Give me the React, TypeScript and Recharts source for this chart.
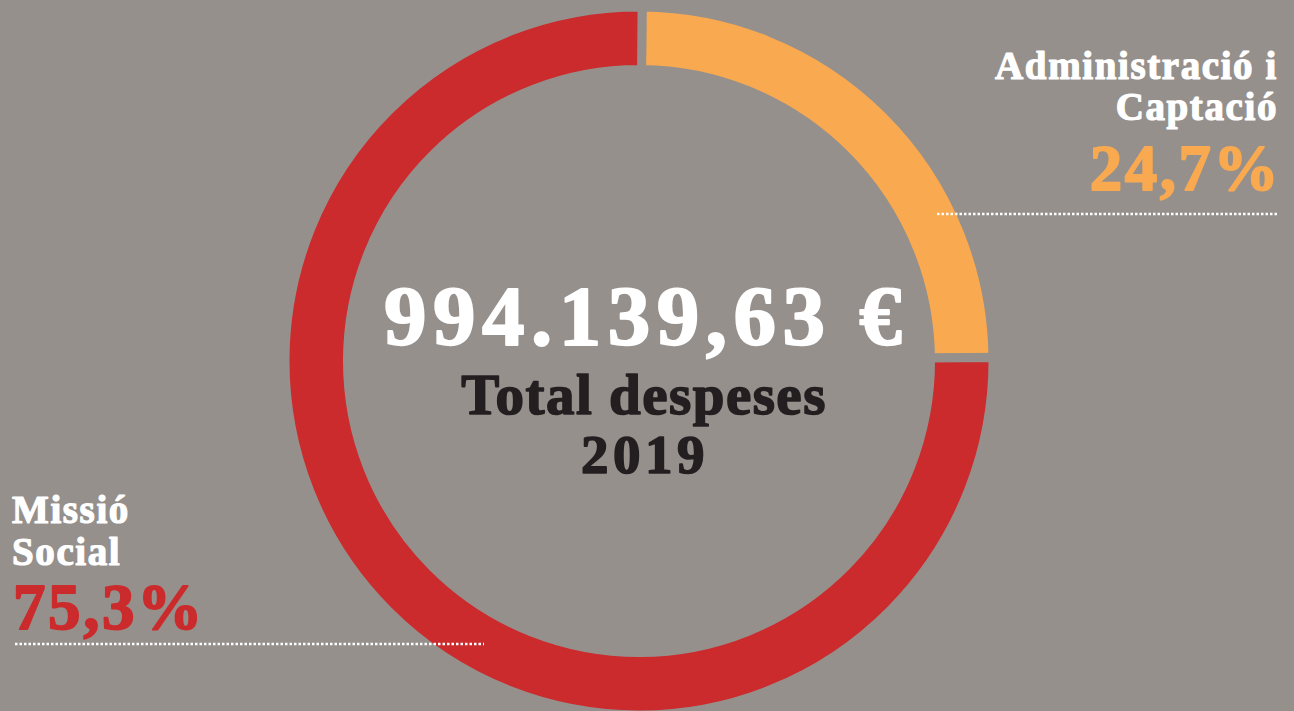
import React from "react";
import { PieChart, Pie, Cell } from "recharts";

const categories = ["Administració i Captació", "Missió Social"];
const values = [24.7, 75.3];
const percentLabels = ["24,7%", "75,3%"];
const colors = ["#f9a94f", "#cb2b2c"];
const totalLabel = "994.139,63 €";
const titleLines = ["Total despeses", "2019"];
const rightLabelLines = ["Administració i", "Captació"];
const leftLabelLines = ["Missió", "Social"];

const data = categories.map((name, i) => ({ name, value: values[i] }));

const BG = "#96908d";
const W = 1294;
const H = 711;
const FONT = "'Liberation Serif', 'Times New Roman', serif";

function T(props: any) {
  const { children, fill, sw = 1.2, ...rest } = props;
  return (
    <text fill={fill} stroke={fill} strokeWidth={sw} strokeLinejoin="round" {...rest}>
      {children}
    </text>
  );
}

export default function App() {
  return (
    <div style={{ position: "fixed", left: 0, top: 0, width: W, height: H, background: BG, overflow: "hidden" }}>
      <div style={{ position: "absolute", left: 0, top: 0 }}>
        <PieChart width={W} height={H} margin={{ top: 0, right: 0, bottom: 0, left: 0 }}>
          <Pie
            data={data}
            dataKey="value"
            nameKey="name"
            cx={639}
            cy={361}
            innerRadius={291.5}
            outerRadius={354}
            startAngle={89.5}
            endAngle={-270.5}
            stroke={BG}
            strokeWidth={9}
            isAnimationActive={false}
          >
            {data.map((d, i) => (
              <Cell key={d.name} fill={colors[i]} stroke={BG} strokeWidth={9} />
            ))}
          </Pie>
        </PieChart>
      </div>
      <svg width={W} height={H} style={{ position: "absolute", left: 0, top: 0, pointerEvents: "none" }}>
        <g fontFamily={FONT} fontWeight="bold">
          <T x={1278} y={79} textAnchor="end" fill="#ffffff" fontSize={39} letterSpacing={1.6}>
            {rightLabelLines[0]}
          </T>
          <T x={1278} y={120} textAnchor="end" fill="#ffffff" fontSize={39} letterSpacing={1.6}>
            {rightLabelLines[1]}
          </T>
          <T x={1281} y={190} textAnchor="end" fill={colors[0]} fontSize={65} letterSpacing={2.5} sw={1.8}>
            {percentLabels[0]}
          </T>
          <T x={12} y={523} textAnchor="start" fill="#ffffff" fontSize={39} letterSpacing={1.6}>
            {leftLabelLines[0]}
          </T>
          <T x={12} y={565} textAnchor="start" fill="#ffffff" fontSize={39} letterSpacing={1.6}>
            {leftLabelLines[1]}
          </T>
          <T x={13} y={629} textAnchor="start" fill={colors[1]} fontSize={65} letterSpacing={2.6} sw={1.8}>
            {percentLabels[1]}
          </T>
          <T x={646} y={345} textAnchor="middle" fill="#ffffff" fontSize={85} letterSpacing={6.5} sw={2}>
            {totalLabel}
          </T>
          <T x={644} y={414} textAnchor="middle" fill="#231f20" fontSize={57} letterSpacing={1.5} sw={1.6}>
            {titleLines[0]}
          </T>
          <T x={645} y={473} textAnchor="middle" fill="#231f20" fontSize={55} letterSpacing={4.5} sw={1.6}>
            {titleLines[1]}
          </T>
        </g>
        <line x1={937} y1={214} x2={1278} y2={214} stroke="#ffffff" strokeWidth={2.5} strokeDasharray="2.5 2" />
        <line x1={15} y1={644} x2={484} y2={644} stroke="#ffffff" strokeWidth={2.5} strokeDasharray="2.5 2" />
      </svg>
    </div>
  );
}
